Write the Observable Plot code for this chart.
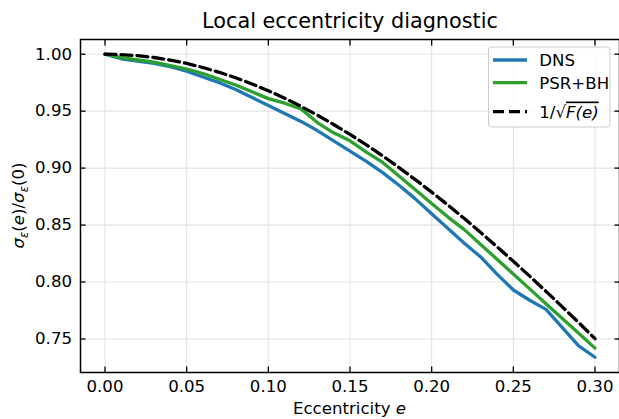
<!DOCTYPE html>
<html><head><meta charset="utf-8">
<script src="https://cdn.jsdelivr.net/npm/d3@7"></script>
<script src="https://cdn.jsdelivr.net/npm/@observablehq/plot@0.6"></script>
<style>
body{margin:0;background:#fff;}
#chart{width:619px;height:419px;overflow:hidden;}
</style></head><body><div id="chart"></div>
<script>
const ecc = [0.00,0.01,0.02,0.03,0.04,0.05,0.06,0.07,0.08,0.09,0.10,0.11,0.12,0.13,0.14,0.15,0.16,0.17,0.18,0.19,0.20,0.21,0.22,0.23,0.24,0.25,0.26,0.27,0.28,0.29,0.30];
const dns = [1.000,0.996,0.994,0.992,0.989,0.985,0.980,0.975,0.969,0.962,0.955,0.948,0.941,0.933,0.924,0.915,0.906,0.896,0.885,0.873,0.860,0.847,0.834,0.822,0.807,0.793,0.784,0.776,0.760,0.744,0.734];
const psrbh = [1.000,0.997,0.995,0.993,0.990,0.987,0.983,0.978,0.973,0.967,0.961,0.957,0.952,0.940,0.931,0.924,0.914,0.905,0.893,0.881,0.869,0.857,0.846,0.833,0.820,0.807,0.794,0.781,0.768,0.755,0.742];
const analytic = [1.0000,0.9997,0.9987,0.9971,0.9948,0.9919,0.9883,0.9841,0.9793,0.9739,0.9679,0.9614,0.9542,0.9465,0.9383,0.9296,0.9204,0.9107,0.9005,0.8899,0.8789,0.8675,0.8557,0.8435,0.8310,0.8182,0.8052,0.7918,0.7782,0.7644,0.7503];
const xTicks = [0.00,0.05,0.10,0.15,0.20,0.25,0.30];
const yTicks = [0.75,0.80,0.85,0.90,0.95,1.00];
const seriesNames = ["DNS","PSR+BH"];
const colors = ["#1f77b4","#2ca02c","#000000"];
const titleText = "Local eccentricity diagnostic";

const rows = ecc.map((e,i)=>({e, dns:dns[i], psr:psrbh[i], an:analytic[i]}));
const FS = 16.6;
const LW = 3.3;

const chart = Plot.plot({
  width:619, height:419,
  marginLeft:80, marginRight:0, marginTop:39, marginBottom:47,
  style:{fontFamily:"DejaVu Sans", fontSize:FS+"px", color:"#000", background:"#fff", overflow:"visible"},
  x:{domain:[-0.015,0.315]},
  y:{domain:[0.7206,1.0129]},
  marks:[
    Plot.gridX(xTicks,{stroke:"#e3e3e3", strokeOpacity:1, strokeWidth:1.1}),
    Plot.gridY(yTicks,{stroke:"#e3e3e3", strokeOpacity:1, strokeWidth:1.1}),
    Plot.line(rows,{x:"e", y:"dns", stroke:colors[0], strokeWidth:LW, strokeLinejoin:"round"}),
    Plot.line(rows,{x:"e", y:"psr", stroke:colors[1], strokeWidth:LW, strokeLinejoin:"round"}),
    Plot.line(rows,{x:"e", y:"an", stroke:colors[2], strokeWidth:LW, strokeDasharray:"11,5"}),
    Plot.axisX(xTicks,{anchor:"bottom", tickSize:-5.5, tickPadding:13.7, strokeWidth:1.3, tickFormat:d3.format(".2f"), label:null}),
    Plot.axisX(xTicks,{anchor:"top", tickSize:-5.5, strokeWidth:1.3, fill:"none", label:null}),
    Plot.axisY(yTicks,{anchor:"left", tickSize:-5.5, tickPadding:14, strokeWidth:1.3, tickFormat:d3.format(".2f"), label:null}),
    Plot.axisY(yTicks,{anchor:"right", tickSize:-5.5, strokeWidth:1.3, fill:"none", label:null}),
    Plot.frame({stroke:"#000", strokeWidth:1.5})
  ]
});
document.getElementById("chart").appendChild(chart);

const svg = d3.select(chart);
// title
svg.append("text").attr("x",350).attr("y",28).attr("text-anchor","middle")
  .attr("font-size","20.8px").attr("fill","#000").text(titleText);
// x label
const xl = svg.append("text").attr("x",349.5).attr("y",414).attr("text-anchor","middle")
  .attr("font-size",FS+"px").attr("fill","#000");
xl.append("tspan").text("Eccentricity ");
xl.append("tspan").attr("font-style","italic").text("e");
// y label
const yl = svg.append("text").attr("transform","translate(24,205.5) rotate(-90)")
  .attr("text-anchor","middle").attr("font-size",FS+"px").attr("fill","#000");
const sub = (t)=>{ yl.append("tspan").attr("font-style","italic").attr("font-size",(FS*0.7)+"px").attr("dy",3.5).text(t); };
yl.append("tspan").attr("font-style","italic").text("σ");
sub("ε");
yl.append("tspan").attr("dy",-3.5).text("(");
yl.append("tspan").attr("font-style","italic").text("e");
yl.append("tspan").text(")/");
yl.append("tspan").attr("font-style","italic").text("σ");
sub("ε");
yl.append("tspan").attr("dy",-3.5).text("(0)");

// legend
const lg = svg.append("g").attr("text-anchor","start");
lg.append("rect").attr("x",488.5).attr("y",47).attr("width",121.5).attr("height",80).attr("rx",3)
  .attr("fill","#fff").attr("fill-opacity",0.8).attr("stroke","#cccccc").attr("stroke-width",1);
const ly = [60,82.7,111.7];
[0,1,2].forEach(i=>{
  lg.append("line").attr("x1",493).attr("x2",527).attr("y1",ly[i]).attr("y2",ly[i])
    .attr("stroke",colors[i]).attr("stroke-width",LW)
    .attr("stroke-dasharray", i===2 ? "11,5" : null);
});
seriesNames.forEach((n,i)=>{
  lg.append("text").attr("x",539.3).attr("y",ly[i]+6).attr("text-anchor","start")
    .attr("font-size",FS+"px").attr("fill","#000").text(n);
});
const lt = lg.append("text").attr("x",539.3).attr("y",117.5).attr("text-anchor","start")
  .attr("font-size",FS+"px").attr("fill","#000");
lt.append("tspan").text("1/√");
lt.append("tspan").attr("font-style","italic").style("text-decoration","overline").text("F(e)");
</script>
</body></html>
